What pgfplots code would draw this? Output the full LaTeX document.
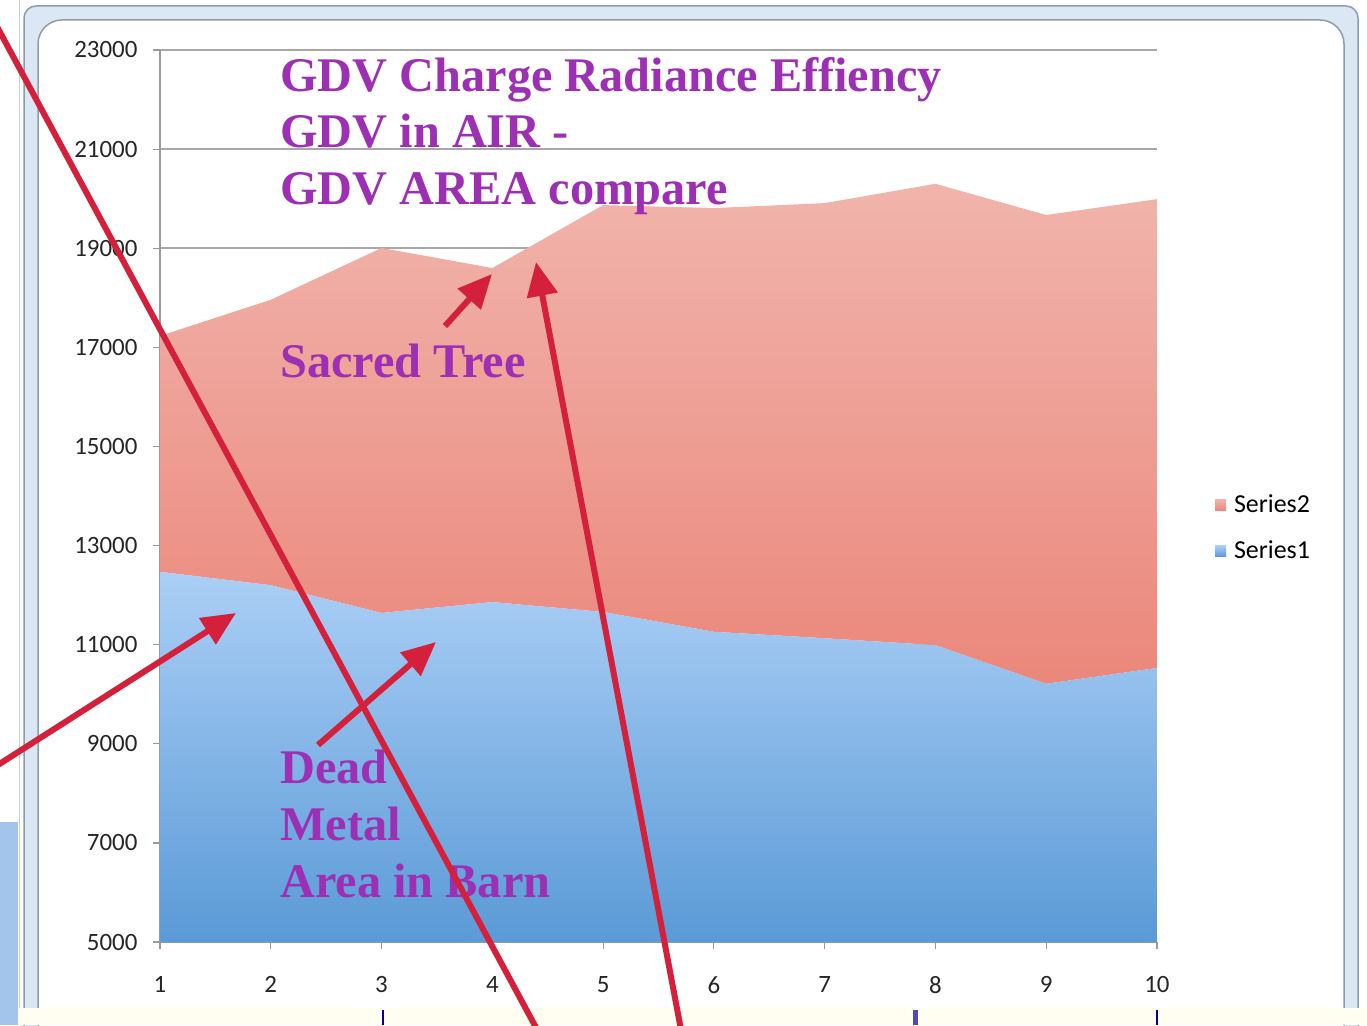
\documentclass[border=0pt]{standalone}
\usepackage{fontspec}
\setmainfont{Liberation Serif}
\newfontfamily\carlito{Carlito}
\usepackage{pgfplots}
\pgfplotsset{compat=1.18}
\usetikzlibrary{arrows.meta}
\definecolor{purp}{HTML}{9C2FB4}
\definecolor{arrred}{HTML}{D5203C}
\definecolor{bluetop}{HTML}{ABCFF6}
\definecolor{bluebot}{HTML}{5A9AD6}
\definecolor{redtop}{HTML}{F1B4AC}
\definecolor{redbot}{HTML}{EB877B}
\definecolor{legred}{HTML}{E8817C}
\definecolor{legblue}{HTML}{8DB6E6}
\definecolor{axisgray}{HTML}{9A9A9A}
\definecolor{gridgray}{HTML}{A8A8A8}
\definecolor{frameblue}{HTML}{DCE7F4}
\definecolor{framegray}{HTML}{8E9CAE}
\begin{document}
\begin{tikzpicture}
\begin{scope}[x=1bp,y=-1bp,shift={(0bp,1025bp)}]
  \useasboundingbox (0,0) rectangle (1367,1025);
  \fill[white] (0,0) rectangle (1367,1025);
  \begin{scope}
  \clip (0,0) rectangle (1367,1025);
  % spreadsheet remnants on the left
  \fill[legblue!80] (0,822) rectangle (18,1025);
  \draw[framegray!50, line width=1bp] (19,0) -- (19,1025);
  % outer frame of the chart object
  \filldraw[fill=frameblue, draw=framegray, line width=1.5bp, rounded corners=12bp] (24,6) rectangle (1358,1060);
  \filldraw[fill=white, draw=framegray, line width=1.5bp, rounded corners=24bp] (38,20) rectangle (1344,1060);
  % bottom strip
  \fill[yellow!6] (19,1008) rectangle (1367,1025);
  \draw[blue!60!black, line width=1.5bp] (383,1010) -- (383,1025);
  \draw[blue!40!gray, line width=5bp] (915,1010) -- (915,1025);
  \draw[blue!60!black, line width=1.5bp] (1157,1010) -- (1157,1025);
  \end{scope}
\end{scope}

\begin{axis}[
  at={(160bp,83bp)}, anchor=south west,
  scale only axis, width=997bp, height=892bp,
  xmin=1, xmax=10, ymin=5000, ymax=23000,
  xtick={1,...,10}, ytick={5000,7000,...,23000},
  scaled y ticks=false,
  stack plots=y,
  axis x line*=bottom, axis y line*=left,
  axis line style={draw=axisgray, line width=1.5bp, -},
  ymajorgrids, grid style={draw=gridgray, line width=1.5bp},
  tick align=outside, major tick length=7bp,
  tick style={draw=axisgray, line width=1.2bp},
  ticklabel style={font=\carlito\fontsize{25}{30}\selectfont, text=black!85},
  /pgf/number format/assume math mode=true,
  /pgf/number format/1000 sep={},
  xticklabel style={yshift=-24bp},
  yticklabel style={xshift=-12bp},
  reverse legend,
  legend style={at={(1.058,0.504)}, anchor=north west, draw=none, fill=none,
    font=\carlito\fontsize{26}{30}\selectfont, row sep=23bp, inner sep=0pt},
]
\addplot[draw=none, top color=bluetop, bottom color=bluebot,
  legend image code/.code={\fill[legblue] (0bp,-6bp) rectangle (11bp,5bp); \path (17bp,0bp);}]
  table {
x y
1 12470
2 12200
3 11640
4 11860
5 11660
6 11260
7 11130
8 10990
9 10210
10 10530
} \closedcycle;
\addlegendentry{Series1}
\addplot[draw=none, top color=redtop, bottom color=redbot,
  legend image code/.code={\fill[legred] (0bp,-6bp) rectangle (11bp,5bp); \path (17bp,0bp);}]
  table {
x y
1 4760
2 5760
3 7365
4 6740
5 8210
6 8550
7 8780
8 9310
9 9460
10 9460
} \closedcycle;
\addlegendentry{Series2}
\end{axis}

\begin{scope}[x=1bp,y=-1bp,shift={(0bp,1025bp)}]
  \clip (0,0) rectangle (1367,1025);
  \tikzset{lbl/.style={anchor=base west, text=purp, inner sep=0pt,
      font=\bfseries\fontsize{48.5}{56}\selectfont}}
  \node[lbl] at (280,92) {GDV Charge Radiance Effiency};
  \node[lbl] at (280,148) {GDV in AIR -};
  \node[lbl] at (280,205) {GDV AREA compare};
  \node[lbl] at (280,378) {Sacred Tree};
  \node[lbl] at (280,783) {Dead};
  \node[lbl] at (280,840) {Metal};
  \node[lbl] at (280,897) {Area in Barn};
  \tikzset{arr/.style={draw=arrred, line width=6bp, -{Triangle[length=34bp,width=30bp]}}}
  \draw[arrred, line width=6bp] (-20,-5) -- (540,1035);
  \draw[arr] (-10,770) -- (236,613);
  \draw[arr] (318,745) -- (436,642);
  \draw[arr] (445,326) -- (492,274);
  \draw[arr] (682,1035) -- (536,262);
\end{scope}
\end{tikzpicture}
\end{document}
